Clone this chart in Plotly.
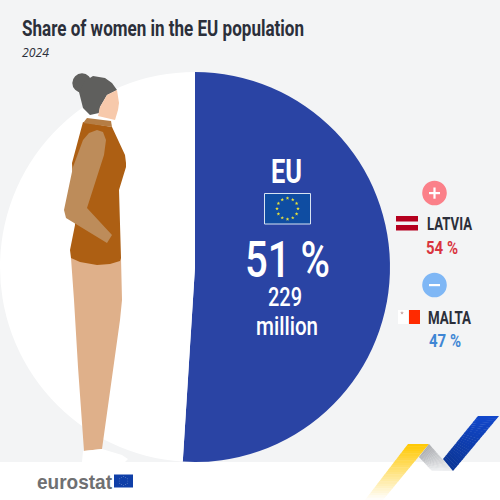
import json
import math
import plotly.graph_objects as go

# chart values
slice_names = ['Women', 'Men']
slice_shares = [51, 49]
slice_colors = ['#2a44a4', '#ffffff']
eu_millions = 229
latvia_share = 54
malta_share = 47

FONT = 'Roboto'
TEXT_DARK = '#2b2f3a'
shapes = []
annotations = []
text_fit = []  # [left, width] per annotation, applied in the page, no condensed font installed


def px(x, y):
    """convert picture pixels to paper coordinates"""
    return x / 500, 1 - y / 500


def poly(points, color, layer='above'):
    path = ''
    for i, (x, y) in enumerate(points):
        u, v = px(x, y)
        path += ('M' if i == 0 else 'L') + f'{u:.4f},{v:.4f} '
    shapes.append(dict(type='path', path=path + 'Z', xref='paper', yref='paper',
                       fillcolor=color, line_width=0, layer=layer))


def rect(x0, y0, x1, y1, color, layer='above', line=None):
    u0, v0 = px(x0, y0)
    u1, v1 = px(x1, y1)
    shapes.append(dict(type='rect', x0=u0, y0=v0, x1=u1, y1=v1, xref='paper', yref='paper',
                       fillcolor=color, layer=layer,
                       line=dict(width=1 if line else 0, color=line or color)))


def circle(cx, cy, r, color):
    u0, v0 = px(cx - r, cy + r)
    u1, v1 = px(cx + r, cy - r)
    shapes.append(dict(type='circle', x0=u0, y0=v0, x1=u1, y1=v1, xref='paper', yref='paper',
                       fillcolor=color, line_width=0))


def star(cx, cy, r, color):
    points = []
    for i in range(10):
        rad = r if i % 2 == 0 else r * 0.42
        ang = math.radians(36 * i - 90)
        points.append((cx + rad * math.cos(ang), cy + rad * math.sin(ang)))
    poly(points, color)


def mix(c0, c1, t):
    return 'rgb(%d,%d,%d)' % tuple(c0[i] + (c1[i] - c0[i]) * t for i in range(3))


def ribbon(a0, b0, a1, b1, c0, c1, steps=24):
    """gradient band from edge a0-b0 to edge a1-b1"""
    for i in range(steps):
        t0, t1 = i / steps, min((i + 1.15) / steps, 1)
        pts = []
        for t, (p, q) in ((t0, (a0, a1)), (t1, (a0, a1)), (t1, (b0, b1)), (t0, (b0, b1))):
            pts.append((p[0] + (q[0] - p[0]) * t, p[1] + (q[1] - p[1]) * t))
        poly(pts, mix(c0, c1, (i + 0.5) / steps))


def label(left, y, width, text, size, color, weight=700, style='normal', family=FONT):
    u, v = px(left + width / 2, y)
    annotations.append(dict(x=u, y=v, xref='paper', yref='paper', text=text, showarrow=False,
                            xanchor='center', yanchor='middle',
                            font=dict(family=family, size=size, color=color, weight=weight,
                                      style=style)))
    text_fit.append([left, width])


# background panel
rect(0, 0, 500, 462, '#f3f4f5', layer='below')

# ribbon, bottom right
ribbon((408, 444), (429, 444), (365, 500), (383, 500), (255, 200, 0), (255, 255, 255))
ribbon((429, 444), (419, 457), (453, 471), (432, 471), (170, 172, 176), (240, 241, 243))
ribbon((478, 416), (499, 416), (443, 459), (453, 471), (18, 72, 205), (12, 54, 150))

# woman
circle(82, 83, 9.7, '#5f5f5d')
poly([(79, 92), (85, 81), (93, 76), (105, 78), (112, 83), (117, 90), (107, 95), (100, 107),
      (99, 113), (90, 115), (83, 108)], '#5f5f5d')
poly([(117, 90), (119, 103), (118, 110), (115, 120), (98, 116), (100, 107), (107, 95)], '#f7c9ab')
poly([(71, 258), (121, 258), (122, 300), (120, 320), (102, 449), (84, 451), (78, 367), (74, 300)],
     '#dfb08a')
poly([(83, 122), (112, 127), (125, 155), (126, 163), (126, 167), (119, 190), (121, 258),
      (120, 261), (110, 264), (97, 265), (80, 262), (71, 258), (70, 250), (75, 225), (72, 163)],
     '#ad5f13')
poly([(87, 118), (111, 121), (112, 127), (83, 123)], '#b57d44')
poly([(97, 130), (103, 132), (106, 140), (104, 155), (87, 208), (112, 235), (107, 243), (66, 218),
      (64, 210), (73, 167), (83, 140), (89, 133)], '#bd8c5a')
poly([(83, 451), (102, 449), (122, 455), (128, 459), (125, 462), (82, 462)], '#ffffff')

# EU flag
rect(264.5, 193.5, 310.5, 224, '#0f4da2', line='#d8e4f2')
for k in range(12):
    a = math.radians(30 * k)
    star(287.5 + 10.5 * math.sin(a), 208.7 - 10.5 * math.cos(a), 1.9, '#e8e23a')

# plus and minus markers
circle(434.5, 193, 12.3, '#fb8089')
rect(429, 192, 440, 194.2, '#ffffff')
rect(433.4, 187.5, 435.6, 198.7, '#ffffff')
circle(434.5, 285, 12.3, '#7fb7f5')
rect(429, 284, 440, 286.2, '#ffffff')

# Latvia flag
rect(396, 216, 418, 221.5, '#b5001e')
rect(396, 225, 418, 230.5, '#b5001e')

# Malta flag
rect(398, 310, 408, 324, '#ffffff')
rect(409, 310, 420, 324, '#ff2a00')
star(402, 313, 2, '#c9a9a6')

# eurostat flag
rect(114, 474.5, 133, 487.5, '#0f3fa8')
for k in range(12):
    a = math.radians(30 * k)
    circle(123.5 + 4.3 * math.sin(a), 481 - 4.3 * math.cos(a), 0.35, '#c8d2e8')

label(22, 28, 282, 'Share of women in the EU population', 22, TEXT_DARK)
label(22, 53, 27, '2024', 12, TEXT_DARK, weight=400, style='italic', family='Open Sans')
label(271, 171, 31, 'EU', 34, '#ffffff')
label(245, 260, 85, f'{slice_shares[0]} %', 50, '#ffffff', weight=500)
label(268, 297, 34, str(eu_millions), 26, '#ffffff', weight=500)
label(256, 326, 62, 'million', 25, '#ffffff', weight=500)
label(427, 223.5, 45, 'LATVIA', 19, TEXT_DARK)
label(426, 247, 32, f'{latvia_share} %', 18, '#d9343f')
label(428, 317, 43, 'MALTA', 19, TEXT_DARK)
label(429, 340, 32, f'{malta_share} %', 18, '#3f86d4')
label(37, 481, 75, 'eurostat', 21, '#6f7072', family='Liberation Sans')

dom_x = [0, 390 / 500]
dom_y = [1 - 462 / 500, 1 - 72 / 500]

fig = go.Figure(go.Pie(labels=slice_names, values=slice_shares, sort=False, direction='clockwise',
                       rotation=0, textinfo='none', hoverinfo='skip', showlegend=False,
                       marker=dict(colors=slice_colors, line=dict(width=0)),
                       domain=dict(x=dom_x, y=dom_y)))
fig.update_layout(width=500, height=500, margin=dict(l=0, r=0, t=0, b=0),
                  paper_bgcolor='#ffffff', shapes=shapes, annotations=annotations)

# drop the page margin and squeeze the labels to the reference's condensed widths
post_script = """
document.body.style.margin = '0';
var fit = %s;
document.querySelectorAll('.annotation-text').forEach(function (el, i) {
    el.setAttribute('textLength', fit[i][1]);
    el.setAttribute('lengthAdjust', 'spacingAndGlyphs');
    var shift = fit[i][0] - el.getBoundingClientRect().left;
    el.setAttribute('x', parseFloat(el.getAttribute('x')) + shift);
});
""" % json.dumps(text_fit)
fig.write_html("out.html", config=dict(displayModeBar=False), post_script=post_script)
